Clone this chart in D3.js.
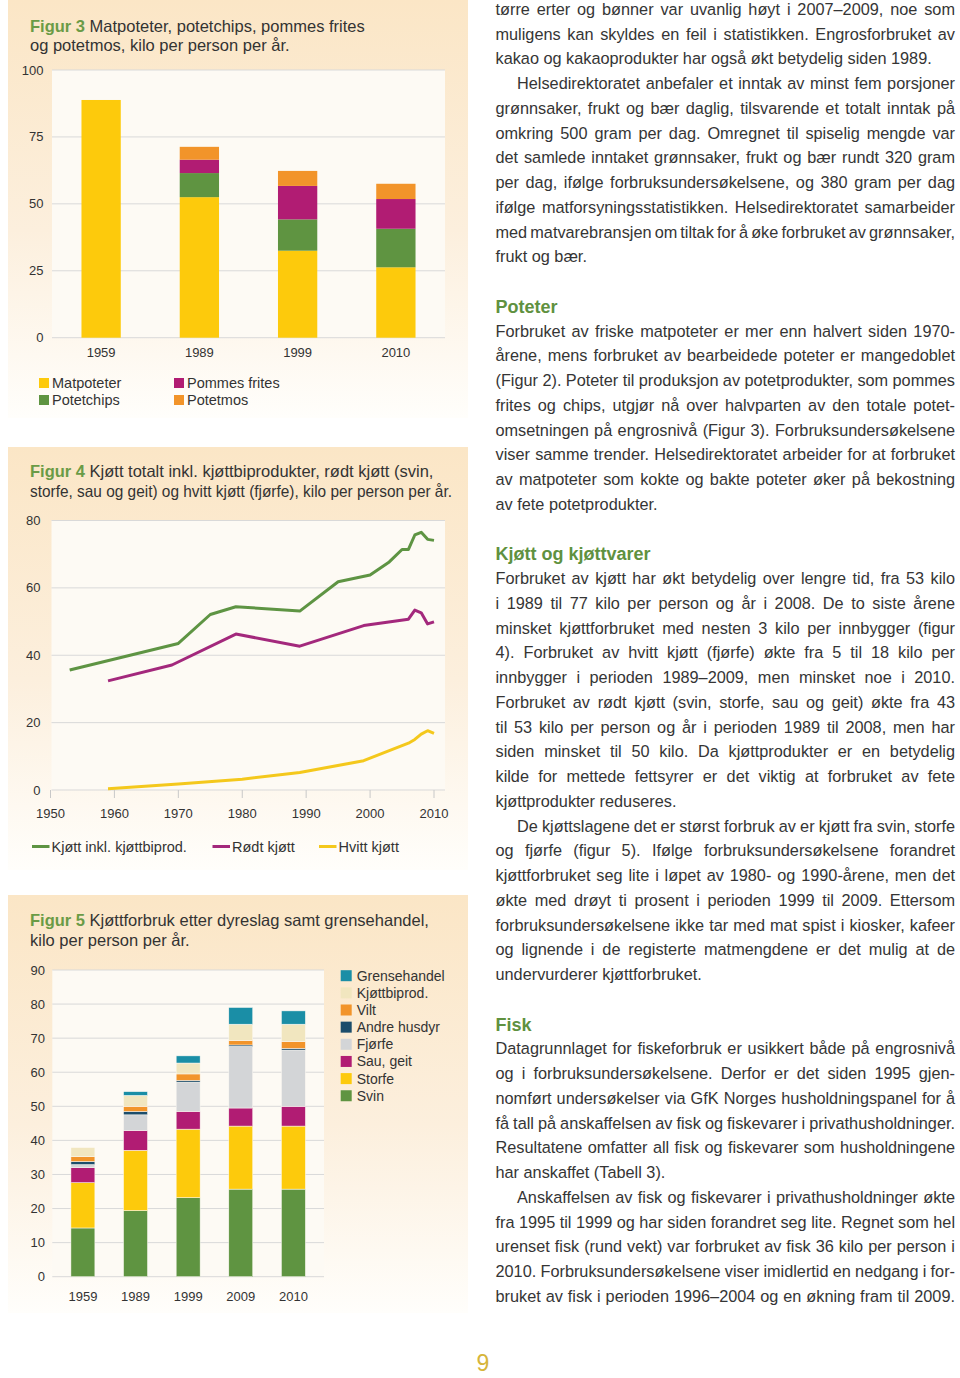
<!DOCTYPE html>
<html><head><meta charset="utf-8">
<script src="https://cdn.jsdelivr.net/npm/d3@7"></script>
<style>
body{margin:0;background:#fff}
svg{display:block}
text{font-family:"Liberation Sans",Arial,Helvetica,sans-serif}
</style></head>
<body><svg id="page" width="960" height="1378"></svg>
<script>
// ---------- DATA ----------
// Figur 3
const fig3Years = ["1959","1989","1999","2010"];
const fig3Keys = ["Matpoteter","Potetchips","Pommes frites","Potetmos"];
const fig3Matpoteter = [88.8, 52.5, 32.5, 26.3];
const fig3Potetchips = [0, 9.0, 11.7, 14.4];
const fig3Pommes = [0, 5.0, 12.5, 11.1];
const fig3Potetmos = [0, 4.8, 5.6, 5.7];
const fig3Ticks = [0, 25, 50, 75, 100];

// Figur 4
const fig4TotalYears = [1953,1970,1975,1979,1989,1995,2000,2003,2005,2006,2007,2008,2009,2010];
const fig4TotalValues = [35.6,43.5,52.1,54.4,53.1,61.8,63.8,67.7,71.4,71.4,75.7,76.5,74.4,74.1];
const fig4RedYears = [1959,1969,1979,1989,1999,2006,2007,2008,2009,2010];
const fig4RedValues = [32.4,37.1,46.3,42.7,48.8,50.7,53.4,52.6,49.3,49.9];
const fig4WhiteYears = [1959,1970,1980,1989,1999,2006,2007,2008,2009,2010];
const fig4WhiteValues = [0.4,1.8,3.2,5.2,8.7,13.9,15.0,16.6,17.6,16.8];
const fig4SeriesNames = ["Kjøtt inkl. kjøttbiprod.","Rødt kjøtt","Hvitt kjøtt"];
const fig4YTicks = [0,20,40,60,80];
const fig4XTicks = [1950,1960,1970,1980,1990,2000,2010];

// Figur 5
const fig5Years = ["1959","1989","1999","2009","2010"];
const fig5Keys = ["Svin","Storfe","Sau, geit","Fjørfe","Andre husdyr","Vilt","Kjøttbiprod.","Grensehandel"];
const fig5Svin = [14.3, 19.4, 23.2, 25.7, 25.7];
const fig5Storfe = [13.3, 17.7, 20.1, 18.5, 18.5];
const fig5Sau = [4.4, 5.8, 5.2, 5.3, 5.8];
const fig5Fjorfe = [0.9, 4.6, 8.6, 18.1, 16.5];
const fig5Andre = [0.9, 1.0, 0.5, 0.4, 0.5];
const fig5Vilt = [1.4, 1.5, 1.9, 1.3, 2.0];
const fig5Biprod = [2.7, 3.2, 3.2, 4.8, 5.1];
const fig5Grense = [0, 1.1, 2.1, 4.9, 3.9];
const fig5Ticks = [0,10,20,30,40,50,60,70,80,90];

// Right column text ("#" heading, "\t" indent, "¶" paragraph end)
const columnLines = [
"tørre erter og bønner var uvanlig høyt i 2007–2009, noe som",
"muligens kan skyldes en feil i statistikken. Engrosforbruket av",
"kakao og kakaoprodukter har også økt betydelig siden 1989.¶",
"\tHelsedirektoratet anbefaler et inntak av minst fem porsjoner",
"grønnsaker, frukt og bær daglig, tilsvarende et totalt inntak på",
"omkring 500 gram per dag. Omregnet til spiselig mengde var",
"det samlede inntaket grønnsaker, frukt og bær rundt 320 gram",
"per dag, ifølge forbruksundersøkelsene, og 380 gram per dag",
"ifølge matforsyningsstatistikken. Helsedirektoratet samarbeider",
"med matvarebransjen om tiltak for å øke forbruket av grønnsaker,",
"frukt og bær.¶",
"",
"#Poteter",
"Forbruket av friske matpoteter er mer enn halvert siden 1970-",
"årene, mens forbruket av bearbeidede poteter er mangedoblet",
"(Figur 2). Poteter til produksjon av potetprodukter, som pommes",
"frites og chips, utgjør nå over halvparten av den totale potet-",
"omsetningen på engrosnivå (Figur 3). Forbruksundersøkelsene",
"viser samme trender. Helsedirektoratet arbeider for at forbruket",
"av matpoteter som kokte og bakte poteter øker på bekostning",
"av fete potetprodukter.¶",
"",
"#Kjøtt og kjøttvarer",
"Forbruket av kjøtt har økt betydelig over lengre tid, fra 53 kilo",
"i 1989 til 77 kilo per person og år i 2008. De to siste årene",
"minsket kjøttforbruket med nesten 3 kilo per innbygger (figur",
"4). Forbruket av hvitt kjøtt (fjørfe) økte fra 5 til 18 kilo per",
"innbygger i perioden 1989–2009, men minsket noe i 2010.",
"Forbruket av rødt kjøtt (svin, storfe, sau og geit) økte fra 43",
"til 53 kilo per person og år i perioden 1989 til 2008, men har",
"siden minsket til 50 kilo. Da kjøttprodukter er en betydelig",
"kilde for mettede fettsyrer er det viktig at forbruket av fete",
"kjøttprodukter reduseres.¶",
"\tDe kjøttslagene det er størst forbruk av er kjøtt fra svin, storfe",
"og fjørfe (figur 5). Ifølge forbruksundersøkelsene forandret",
"kjøttforbruket seg lite i løpet av 1980- og 1990-årene, men det",
"økte med drøyt ti prosent i perioden 1999 til 2009. Ettersom",
"forbruksundersøkelsene ikke tar med mat spist i kiosker, kafeer",
"og lignende i de registerte matmengdene er det mulig at de",
"undervurderer kjøttforbruket.¶",
"",
"#Fisk",
"Datagrunnlaget for fiskeforbruk er usikkert både på engrosnivå",
"og i forbruksundersøkelsene. Derfor er det siden 1995 gjen-",
"nomført undersøkelser via GfK Norges husholdningspanel for å",
"få tall på anskaffelsen av fisk og fiskevarer i privathusholdninger.",
"Resultatene omfatter all fisk og fiskevarer som husholdningene",
"har anskaffet (Tabell 3).¶",
"\tAnskaffelsen av fisk og fiskevarer i privathusholdninger økte",
"fra 1995 til 1999 og har siden forandret seg lite. Regnet som hel",
"urenset fisk (rund vekt) var forbruket av fisk 36 kilo per person i",
"2010. Forbruksundersøkelsene viser imidlertid en nedgang i for-",
"bruket av fisk i perioden 1996–2004 og en økning fram til 2009."
];

// ---------- STYLE ----------
const C = {
  yellow:"#fdca0c", green:"#5f9441", magenta:"#b11c73", orange:"#f2942a",
  teal:"#1a8ea6", cream:"#f1e6bf", navy:"#1c4d6b", grey:"#d3d5d7",
  lineGreen:"#5e9443", lineMag:"#a3287c", lineYel:"#f4c81c",
  title:"#6a9b46", text:"#333", tick:"#333", grid:"#d9d9d9", plot:"#fdfaf4"
};

const svg = d3.select("#page");
const defs = svg.append("defs");
const grad = defs.append("linearGradient").attr("id","pg").attr("x1",0).attr("y1",0).attr("x2",0).attr("y2",1);
grad.append("stop").attr("offset","0%").attr("stop-color","#fbe6c6");
grad.append("stop").attr("offset","55%").attr("stop-color","#fcefdd");
grad.append("stop").attr("offset","100%").attr("stop-color","#fffefb");

[[8,0,460,418],[8,447,460,423],[8,895,460,418]].forEach(p=>{
  svg.append("rect").attr("x",p[0]).attr("y",p[1]).attr("width",p[2]).attr("height",p[3]).attr("fill","url(#pg)");
});

function title(x, y1, y2, num, rest, line2, len2){
  const t = svg.append("text").attr("x",x).attr("y",y1).attr("font-size",16.5).attr("fill",C.text);
  t.append("tspan").attr("font-weight","bold").attr("fill",C.title).text(num);
  t.append("tspan").text(" " + rest);
  const t2 = svg.append("text").attr("x",x).attr("y",y2).attr("font-size",16.5).attr("fill",C.text).text(line2);
  if(len2 && t2.node().getComputedTextLength() > len2){
    t2.attr("textLength",len2).attr("lengthAdjust","spacingAndGlyphs");
  }
}

// ---------- FIGUR 3 ----------
title(30, 31.5, 51, "Figur 3", "Matpoteter, potetchips, pommes frites", "og potetmos, kilo per person per år.");
{
  const left=52, right=445, top=70, bottom=337.7;
  const x = d3.scaleBand().domain(fig3Years).range([left,right]).paddingInner(0.6).paddingOuter(0.3);
  const y = d3.scaleLinear().domain([0,100]).range([bottom,top]);
  const g = svg.append("g");
  g.append("rect").attr("x",left).attr("y",top).attr("width",right-left).attr("height",bottom-top).attr("fill",C.plot);
  g.selectAll("line.grid").data(fig3Ticks).join("line").attr("x1",left).attr("x2",right)
    .attr("y1",d=>y(d)).attr("y2",d=>y(d)).attr("stroke",C.grid).attr("stroke-width",1);
  g.selectAll("text.yt").data(fig3Ticks).join("text").attr("x",43.5).attr("y",d=>y(d)+4.5)
    .attr("text-anchor","end").attr("font-size",13).attr("fill",C.tick).text(d=>d);
  const table = fig3Years.map((yr,i)=>({year:yr,"Matpoteter":fig3Matpoteter[i],"Potetchips":fig3Potetchips[i],"Pommes frites":fig3Pommes[i],"Potetmos":fig3Potetmos[i]}));
  const colors = d3.scaleOrdinal().domain(fig3Keys).range([C.yellow,C.green,C.magenta,C.orange]);
  const stacked = d3.stack().keys(fig3Keys)(table);
  g.selectAll("g.s").data(stacked).join("g").attr("fill",d=>colors(d.key))
    .selectAll("rect").data(d=>d).join("rect")
    .attr("x",d=>x(d.data.year)).attr("width",x.bandwidth())
    .attr("y",d=>y(d[1])).attr("height",d=>y(d[0])-y(d[1]));
  g.selectAll("text.xt").data(fig3Years).join("text").attr("x",d=>x(d)+x.bandwidth()/2).attr("y",357)
    .attr("text-anchor","middle").attr("font-size",13).attr("fill",C.tick).text(d=>d);
  // legend
  const lg = [[39,383,"Matpoteter"],[174,383,"Pommes frites"],[39,400,"Potetchips"],[174,400,"Potetmos"]];
  lg.forEach(l=>{
    g.append("rect").attr("x",l[0]).attr("y",l[1]-5).attr("width",10).attr("height",10).attr("fill",colors(l[2]));
    g.append("text").attr("x",l[0]+13).attr("y",l[1]+5).attr("font-size",14.5).attr("fill",C.text).text(l[2]);
  });
}

// ---------- FIGUR 4 ----------
title(30, 477, 496.5, "Figur 4", "Kjøtt totalt inkl. kjøttbiprodukter, rødt kjøtt (svin,", "storfe, sau og geit) og hvitt kjøtt (fjørfe), kilo per person per år.", 422);
{
  const left=51.5, right=445, top=520.5, bottom=790;
  const x = d3.scaleLinear().domain([1950,2010]).range([50.5,434]);
  const y = d3.scaleLinear().domain([0,80]).range([bottom,top]);
  const g = svg.append("g");
  g.append("rect").attr("x",left).attr("y",top).attr("width",right-left).attr("height",bottom-top).attr("fill",C.plot);
  g.selectAll("line.grid").data(fig4YTicks).join("line").attr("x1",left).attr("x2",right)
    .attr("y1",d=>y(d)).attr("y2",d=>y(d)).attr("stroke",C.grid).attr("stroke-width",1);
  g.selectAll("text.yt").data(fig4YTicks).join("text").attr("x",40.5).attr("y",d=>y(d)+4.5)
    .attr("text-anchor","end").attr("font-size",13).attr("fill",C.tick).text(d=>d);
  g.selectAll("line.xt").data(fig4XTicks).join("line").attr("x1",d=>x(d)).attr("x2",d=>x(d))
    .attr("y1",bottom).attr("y2",bottom+8).attr("stroke","#c8c8c8");
  g.selectAll("text.xtl").data(fig4XTicks).join("text").attr("x",d=>x(d)).attr("y",817.5)
    .attr("text-anchor","middle").attr("font-size",13).attr("fill",C.tick).text(d=>d);
  const line = d3.line().x(d=>x(d[0])).y(d=>y(d[1]));
  const series = [
    [fig4TotalYears, fig4TotalValues, C.lineGreen],
    [fig4RedYears, fig4RedValues, C.lineMag],
    [fig4WhiteYears, fig4WhiteValues, C.lineYel]
  ];
  series.forEach(s=>{
    g.append("path").datum(s[0].map((yr,i)=>[yr,s[1][i]])).attr("d",line)
      .attr("fill","none").attr("stroke",s[2]).attr("stroke-width",3).attr("stroke-linejoin","round");
  });
  const lx = [32,212.5,319];
  fig4SeriesNames.forEach((n,i)=>{
    g.append("line").attr("x1",lx[i]).attr("x2",lx[i]+17.5).attr("y1",846.5).attr("y2",846.5)
      .attr("stroke",series[i][2]).attr("stroke-width",3);
    g.append("text").attr("x",lx[i]+19.5).attr("y",851.5).attr("font-size",14.5).attr("fill",C.text).text(n);
  });
}

// ---------- FIGUR 5 ----------
title(30, 926, 946, "Figur 5", "Kjøttforbruk etter dyreslag samt grensehandel,", "kilo per person per år.");
{
  const left=52.3, right=324, top=970, bottom=1276.7;
  const x = d3.scaleBand().domain(fig5Years).range([left,right]).paddingInner(0.545).paddingOuter(0.354);
  const y = d3.scaleLinear().domain([0,90]).range([bottom,top]);
  const g = svg.append("g");
  g.append("rect").attr("x",left).attr("y",top).attr("width",right-left).attr("height",bottom-top).attr("fill",C.plot);
  g.selectAll("line.grid").data(fig5Ticks).join("line").attr("x1",left).attr("x2",right)
    .attr("y1",d=>y(d)).attr("y2",d=>y(d)).attr("stroke",C.grid).attr("stroke-width",1);
  g.selectAll("text.yt").data(fig5Ticks).join("text").attr("x",45).attr("y",d=>y(d)+4.5)
    .attr("text-anchor","end").attr("font-size",13).attr("fill",C.tick).text(d=>d);
  const cols = [fig5Svin,fig5Storfe,fig5Sau,fig5Fjorfe,fig5Andre,fig5Vilt,fig5Biprod,fig5Grense];
  const table = fig5Years.map((yr,i)=>{const o={year:yr}; fig5Keys.forEach((k,j)=>o[k]=cols[j][i]); return o;});
  const colors = d3.scaleOrdinal().domain(fig5Keys)
    .range([C.green,C.yellow,C.magenta,C.grey,C.navy,C.orange,C.cream,C.teal]);
  const stacked = d3.stack().keys(fig5Keys)(table);
  g.selectAll("g.s").data(stacked).join("g").attr("fill",d=>colors(d.key))
    .selectAll("rect").data(d=>d.filter(v=>v[1]-v[0]>0)).join("rect")
    .attr("x",d=>x(d.data.year)).attr("width",x.bandwidth())
    .attr("y",d=>y(d[1])).attr("height",d=>y(d[0])-y(d[1]))
    .attr("stroke",C.plot).attr("stroke-width",0.5);
  g.selectAll("text.xt").data(fig5Years).join("text").attr("x",d=>x(d)+x.bandwidth()/2).attr("y",1300.5)
    .attr("text-anchor","middle").attr("font-size",13).attr("fill",C.tick).text(d=>d);
  const legendKeys = fig5Keys.slice().reverse();
  legendKeys.forEach((k,i)=>{
    const cy = 975.7 + i*17.15;
    g.append("rect").attr("x",340.7).attr("y",cy-5.5).attr("width",11).attr("height",11).attr("fill",colors(k));
    g.append("text").attr("x",356.7).attr("y",cy+5).attr("font-size",14).attr("fill",C.text).text(k);
  });
}

// ---------- RIGHT COLUMN ----------
{
  const colX = 495.5, colW = 459.5, g = svg.append("g");
  columnLines.forEach((raw,k)=>{
    if(!raw) return;
    const base = 14.9 + 24.75*k;
    if(raw.startsWith("#")){
      g.append("text").attr("x",colX).attr("y",base+1).attr("font-size",18).attr("font-weight","bold")
        .attr("fill","#5f9140").text(raw.slice(1));
      return;
    }
    const indent = raw.startsWith("\t") ? 21.5 : 0;
    const last = raw.endsWith("¶");
    const s = raw.replace(/^\t/,"").replace(/¶$/,"");
    const t = g.append("text").attr("x",colX+indent).attr("y",base).attr("font-size",16.3)
      .attr("fill","#353535").text(s);
    if(!last){
      const len = t.node().getComputedTextLength();
      const n = (s.match(/ /g)||[]).length;
      if(n) t.style("word-spacing", ((colW-indent-len)/n)+"px");
    }
  });
  svg.append("text").attr("x",483).attr("y",1371).attr("text-anchor","middle").attr("font-size",23)
    .attr("fill","#d6b53a").text("9");
}
</script>
</body></html>
